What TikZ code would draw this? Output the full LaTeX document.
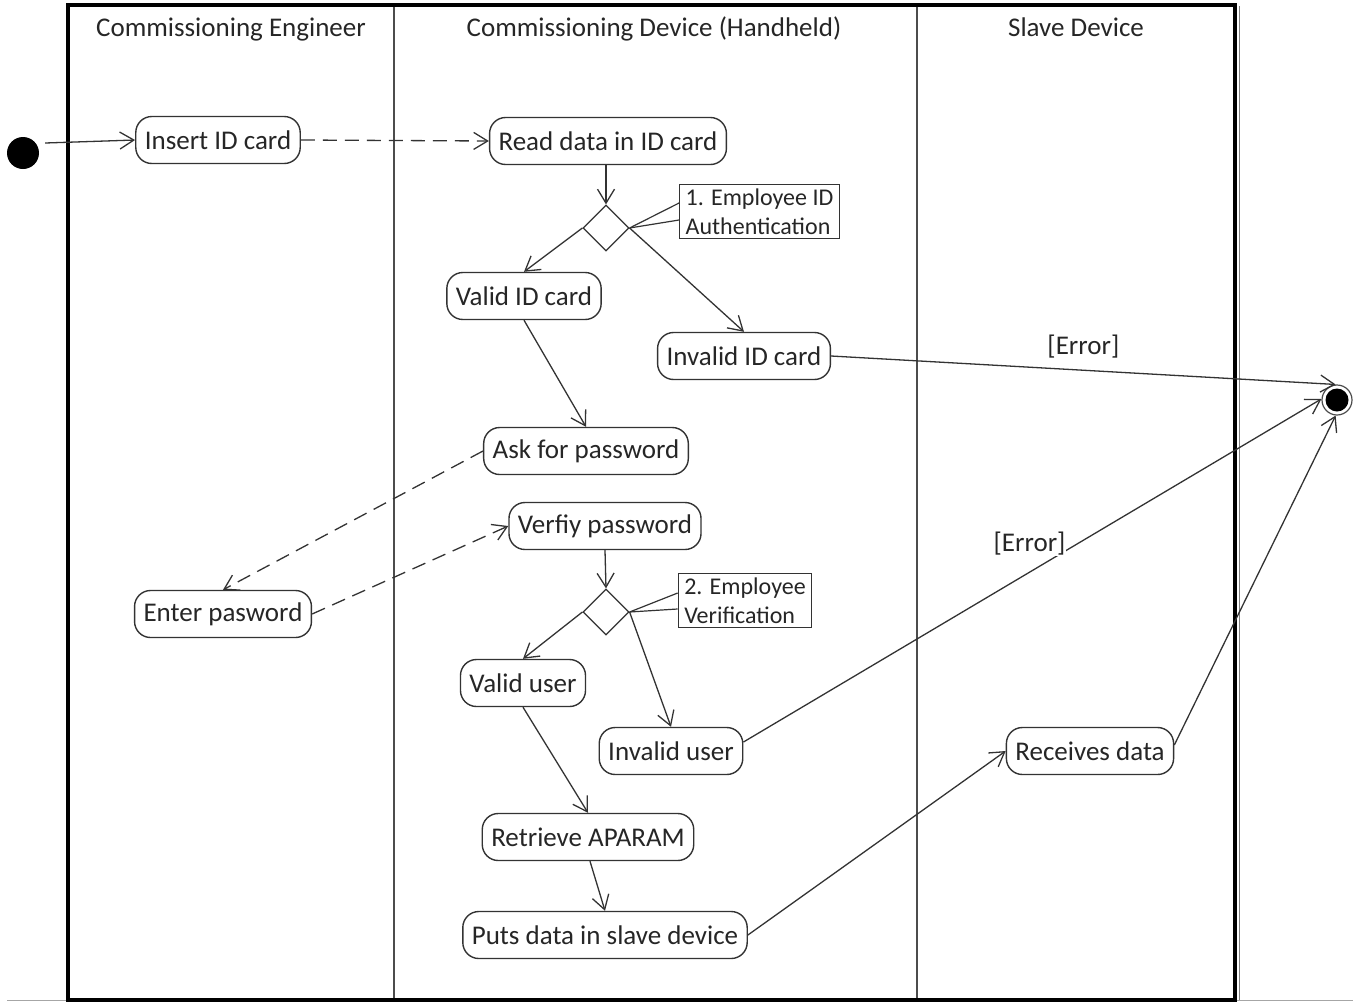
\documentclass[tikz,border=0pt]{standalone}
\usepackage{fontspec}
\setmainfont{Carlito}
\usetikzlibrary{arrows.meta,shapes.geometric}
\definecolor{ink}{HTML}{262626}
\definecolor{wire}{HTML}{333333}
\begin{document}
\begin{tikzpicture}[x=1pt,y=-1pt,
  every node/.style={text=ink},
  action/.style={draw=wire,line width=1.4pt,rounded corners=16pt,
    minimum height=47pt,inner xsep=9pt,inner ysep=0pt,fill=white,
    font=\fontsize{27}{32}\selectfont},
  decision/.style={draw=wire,line width=1.2pt,diamond,minimum width=46pt,
    minimum height=46pt,inner sep=0pt,fill=white},
  note/.style={draw=wire,line width=1.2pt,align=left,inner xsep=6pt,inner ysep=4pt,
    font=\fontsize{24}{29}\selectfont,fill=white},
  lane/.style={font=\fontsize{27}{32}\selectfont,anchor=base},
  guard/.style={font=\fontsize{27}{32}\selectfont,inner sep=1pt},
  flow/.style={draw=wire,line width=1.3pt,-{Straight Barb[length=14pt,width=17pt,line width=1.3pt]}},
  msg/.style={flow,dash pattern=on 14pt off 8pt},
  link/.style={draw=wire,line width=1.2pt}]
\useasboundingbox (0,0) rectangle (1369,1005);

% swimlane frame
\draw[gray!70,line width=1.2pt] (7,1000.5) -- (1353,1000.5);
\draw[gray!60!black,line width=2pt] (394,5) -- (394,1000);
\draw[gray!60!black,line width=2pt] (917,5) -- (917,1000);
\draw[gray,line width=1.4pt] (1239.5,6) -- (1239.5,1000);
\draw[black,line width=3.5pt] (68,5) rectangle (1235,1000);

\node[lane] (laneA) at (231,36) {Commissioning Engineer};
\node[lane] (laneB) at (654,36) {Commissioning Device (Handheld)};
\node[lane] (laneC) at (1076,36) {Slave Device};

% start and end
\node[circle,fill=black,minimum size=32pt,inner sep=0pt] (start) at (23,153) {};
\node[circle,draw=gray!60!black,line width=1.2pt,fill=white,minimum size=30pt,inner sep=0pt] (endn) at (1337,400) {};
\node[circle,fill=black,minimum size=23pt,inner sep=0pt] (endcore) at (1337,400) {};

% actions
\node[action] (insert) at (218,140) {Insert ID card};
\node[action] (read) at (608,141) {Read data in ID card};
\node[decision] (d1) at (606,228) {};
\node[note] (n1) at (759.5,211.5) {1. Employee ID\\Authentication};
\node[action] (valid) at (524,296) {Valid ID card};
\node[action] (invalid) at (744,356) {Invalid ID card};
\node[action] (ask) at (586,451) {Ask for password};
\node[action] (verify) at (605,526) {Verfiy password};
\node[action] (enter) at (223,614) {Enter pasword};
\node[decision] (d2) at (606,612) {};
\node[note] (n2) at (745,600.5) {2. Employee\\Verification};
\node[action] (vuser) at (523,683) {Valid user};
\node[action] (iuser) at (671,751) {Invalid user};
\node[action] (recv) at (1090,751) {Receives data};
\node[action] (retr) at (588,837) {Retrieve APARAM};
\node[action] (puts) at (605,935) {Puts data in slave device};

% note anchors
\draw[link] (d1.east) -- ([yshift=8.5pt]n1.west);
\draw[link] (d1.east) -- ([yshift=-8.5pt]n1.west);
\draw[link] (d2.east) -- ([yshift=7.5pt]n2.west);
\draw[link] (d2.east) -- ([yshift=-8.5pt]n2.west);

% control flow
\draw[flow] ([shift={(6pt,10pt)}]start.east) -- (insert.west);
\draw[msg] (insert.east) -- (read.west);
\draw[flow] ([xshift=-2pt]read.south) -- (d1.north);
\draw[flow] (d1.west) -- (valid.north);
\draw[flow] (d1.east) -- (invalid.north);
\draw[flow] (valid.south) -- (ask.north);
\draw[flow] (invalid.east) -- (endn.95)
  node[guard,pos=0.5,above=10pt] (err1) {[Error]};
\draw[msg] (ask.west) -- (enter.north);
\draw[msg] (enter.east) -- (verify.west);
\draw[flow] (verify.south) -- (d2.north);
\draw[flow] (d2.west) -- (vuser.north);
\draw[flow] (d2.east) -- (iuser.north);
\draw[flow] ([yshift=9pt]iuser.east) -- (endn.176)
  node[guard,pos=0.495,yshift=29pt,fill=white] (err2) {[Error]};
\draw[flow] (vuser.south) -- (retr.north);
\draw[flow] ([xshift=2pt]retr.south) -- (puts.north);
\draw[flow] (puts.east) -- (recv.west);
\draw[flow] ([yshift=6pt]recv.east) -- (endn.-95);
\end{tikzpicture}
\end{document}
